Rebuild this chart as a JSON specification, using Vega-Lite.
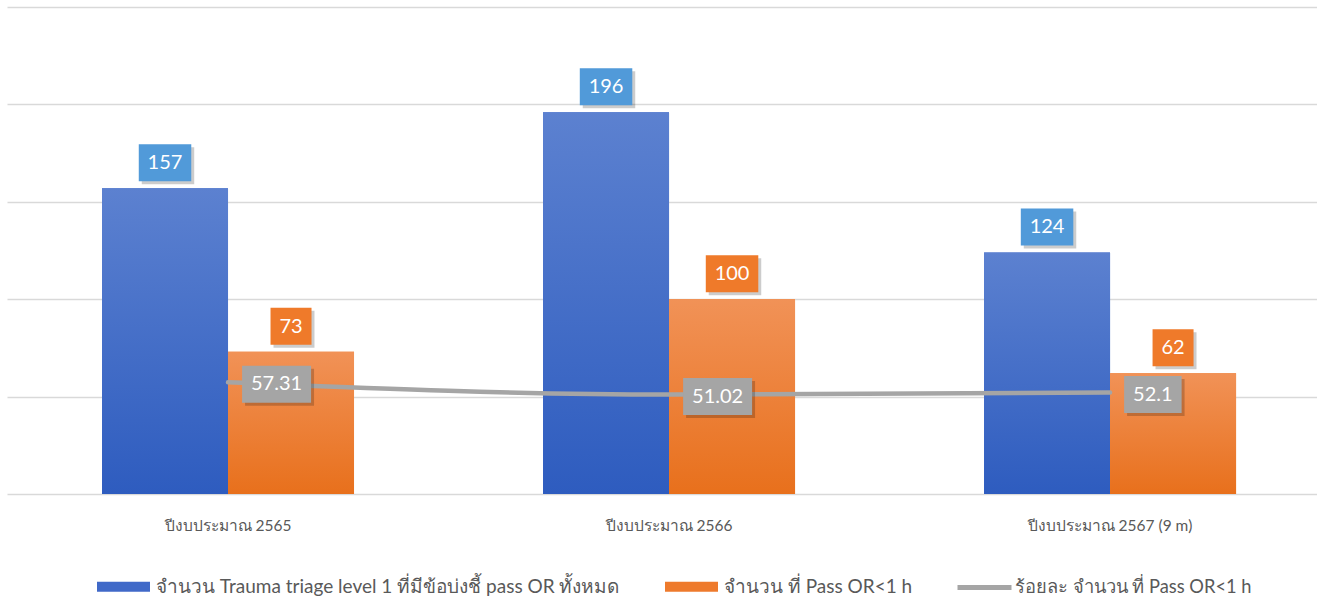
{
  "$schema": "https://vega.github.io/schema/vega-lite/v6.json",
  "width": 1310,
  "height": 487,
  "padding": {"left": 7, "top": 7, "right": 0, "bottom": 0},
  "background": "white",
  "config": {
    "view": {"stroke": null},
    "font": "Lato",
    "axisY": {"grid": true, "labels": false, "ticks": false, "domain": false, "gridColor": "#D9D9D9", "gridWidth": 1.5, "tickCount": 5}
  },
  "datasets": {
    "bars": [
      {"year": "ปีงบประมาณ 2565", "series": "จำนวน Trauma triage level 1 ที่มีข้อบ่งชี้ pass OR ทั้งหมด", "value": 157},
      {"year": "ปีงบประมาณ 2565", "series": "จำนวน ที่ Pass OR<1 h", "value": 73},
      {"year": "ปีงบประมาณ 2566", "series": "จำนวน Trauma triage level 1 ที่มีข้อบ่งชี้ pass OR ทั้งหมด", "value": 196},
      {"year": "ปีงบประมาณ 2566", "series": "จำนวน ที่ Pass OR<1 h", "value": 100},
      {"year": "ปีงบประมาณ 2567 (9 m)", "series": "จำนวน Trauma triage level 1 ที่มีข้อบ่งชี้ pass OR ทั้งหมด", "value": 124},
      {"year": "ปีงบประมาณ 2567 (9 m)", "series": "จำนวน ที่ Pass OR<1 h", "value": 62}
    ],
    "pct": [
      {"year": "ปีงบประมาณ 2565", "pct": 57.31},
      {"year": "ปีงบประมาณ 2566", "pct": 51.02},
      {"year": "ปีงบประมาณ 2567 (9 m)", "pct": 52.1}
    ]
  },
  "encoding": {
    "x": {
      "field": "year",
      "type": "nominal",
      "scale": {"domain": ["ปีงบประมาณ 2565", "ปีงบประมาณ 2566", "ปีงบประมาณ 2567 (9 m)"], "paddingInner": 0.4286, "paddingOuter": 0.1995, "align": 0.54},
      "axis": {"title": null, "labelAngle": 0, "labelFontSize": 15.5, "labelColor": "#595959", "labelPadding": 24, "ticks": false, "domain": false}
    }
  },
  "layer": [
    {
      "data": {"name": "bars"},
      "mark": {"type": "bar"},
      "encoding": {
        "xOffset": {"field": "series", "type": "nominal", "scale": {"domain": ["จำนวน Trauma triage level 1 ที่มีข้อบ่งชี้ pass OR ทั้งหมด", "จำนวน ที่ Pass OR<1 h"], "paddingInner": 0, "paddingOuter": 0}},
        "y": {"field": "value", "type": "quantitative", "title": null, "scale": {"domain": [0, 250], "nice": false}},
        "fill": {
          "field": "series", "type": "nominal",
          "scale": {"domain": ["จำนวน Trauma triage level 1 ที่มีข้อบ่งชี้ pass OR ทั้งหมด", "จำนวน ที่ Pass OR<1 h"], "range": ["#4069C8", "#EE7A2C"]},
          "legend": {"orient": "none", "legendX": 90, "legendY": 553, "padding": 0, "title": null, "direction": "horizontal", "symbolType": "M-1,-0.19H1V0.19H-1Z", "symbolSize": 2809, "symbolStrokeWidth": 0, "labelFontSize": 19, "labelColor": "#595959", "labelLimit": 800, "columnPadding": 45, "labelOffset": 6}
        }
      }
    },
    {
      "data": {"name": "bars"},
      "transform": [{"filter": {"field": "series", "equal": "จำนวน Trauma triage level 1 ที่มีข้อบ่งชี้ pass OR ทั้งหมด"}}],
      "mark": {"type": "bar", "color": {"gradient": "linear", "x1": 0, "y1": 0, "x2": 0, "y2": 1, "stops": [{"offset": 0, "color": "#5C81D0"}, {"offset": 1, "color": "#2E5CBF"}]}},
      "encoding": {
        "xOffset": {"field": "series", "type": "nominal"},
        "y": {"field": "value", "type": "quantitative", "title": null, "scale": {"domain": [0, 250], "nice": false}}
      }
    },
    {
      "data": {"name": "bars"},
      "transform": [{"filter": {"field": "series", "equal": "จำนวน ที่ Pass OR<1 h"}}],
      "mark": {"type": "bar", "color": {"gradient": "linear", "x1": 0, "y1": 0, "x2": 0, "y2": 1, "stops": [{"offset": 0, "color": "#F19257"}, {"offset": 1, "color": "#E8701C"}]}},
      "encoding": {
        "xOffset": {"field": "series", "type": "nominal"},
        "y": {"field": "value", "type": "quantitative", "title": null, "scale": {"domain": [0, 250], "nice": false}}
      }
    },
    {
      "data": {"name": "pct"},
      "mark": {"type": "line", "strokeWidth": 4.5, "strokeCap": "round", "interpolate": "monotone"},
      "encoding": {
        "y": {"field": "pct", "type": "quantitative", "title": null, "scale": {"domain": [0, 250], "nice": false}},
        "stroke": {
          "datum": "ร้อยละ จำนวน ที่ Pass OR<1 h",
          "scale": {"range": ["#A5A5A5"]},
          "legend": {"orient": "none", "legendX": 948, "legendY": 551, "padding": 0, "title": null, "symbolType": "stroke", "symbolSize": 2916, "symbolStrokeWidth": 5, "labelFontSize": 18.3, "labelColor": "#595959", "labelLimit": 800, "labelOffset": 1}
        }
      }
    },
    {
      "data": {"name": "bars"},
      "mark": {
        "type": "point", "filled": true, "size": 1369, "opacity": 0.2, "color": "#000000", "strokeWidth": 0, "yOffset": -22.5,
        "shape": {"expr": "'M' + (0.16-(11.5*length(toString(datum.value))+18)/37) + ',-1H' + (0.16+(11.5*length(toString(datum.value))+18)/37) + 'V1H' + (0.16-(11.5*length(toString(datum.value))+18)/37) + 'Z'"}
      },
      "encoding": {
        "xOffset": {"field": "series", "type": "nominal"},
        "y": {"field": "value", "type": "quantitative", "title": null, "scale": {"domain": [0, 250], "nice": false}}
      }
    },
    {
      "data": {"name": "bars"},
      "mark": {
        "type": "point", "filled": true, "size": 1369, "opacity": 1, "strokeWidth": 0, "yOffset": -25.5,
        "fill": {"expr": "datum.series == 'จำนวน ที่ Pass OR<1 h' ? '#EF7A2A' : '#519AD9'"},
        "shape": {"expr": "'M' + (-(11.5*length(toString(datum.value))+18)/37) + ',-1H' + ((11.5*length(toString(datum.value))+18)/37) + 'V1H' + (-(11.5*length(toString(datum.value))+18)/37) + 'Z'"}
      },
      "encoding": {
        "xOffset": {"field": "series", "type": "nominal"},
        "y": {"field": "value", "type": "quantitative", "title": null, "scale": {"domain": [0, 250], "nice": false}}
      }
    },
    {
      "data": {"name": "bars"},
      "mark": {"type": "text", "color": "white", "fontSize": 20, "baseline": "middle", "align": "center", "yOffset": -25},
      "encoding": {
        "xOffset": {"field": "series", "type": "nominal"},
        "y": {"field": "value", "type": "quantitative", "title": null, "scale": {"domain": [0, 250], "nice": false}},
        "text": {"field": "value", "type": "nominal"}
      }
    },
    {
      "data": {"name": "pct"},
      "mark": {
        "type": "point", "filled": true, "size": 1369, "opacity": 0.2, "color": "#000000", "strokeWidth": 0, "yOffset": 5,
        "shape": {"expr": "'M0.92,-1H' + (0.92+(11.5*(length(toString(datum.pct))-1)+23)/18.5) + 'V1H0.92Z'"}
      },
      "encoding": {
        "y": {"field": "pct", "type": "quantitative", "title": null, "scale": {"domain": [0, 250], "nice": false}}
      }
    },
    {
      "data": {"name": "pct"},
      "mark": {
        "type": "point", "filled": true, "size": 1369, "opacity": 1, "fill": "#A5A5A5", "strokeWidth": 0, "yOffset": 2,
        "shape": {"expr": "'M0.76,-1H' + (0.76+(11.5*(length(toString(datum.pct))-1)+23)/18.5) + 'V1H0.76Z'"}
      },
      "encoding": {
        "y": {"field": "pct", "type": "quantitative", "title": null, "scale": {"domain": [0, 250], "nice": false}}
      }
    },
    {
      "data": {"name": "pct"},
      "mark": {"type": "text", "color": "white", "fontSize": 20, "baseline": "middle", "align": "left", "dx": 23, "yOffset": 2},
      "encoding": {
        "y": {"field": "pct", "type": "quantitative", "title": null, "scale": {"domain": [0, 250], "nice": false}},
        "text": {"field": "pct", "type": "nominal"}
      }
    }
  ]
}
